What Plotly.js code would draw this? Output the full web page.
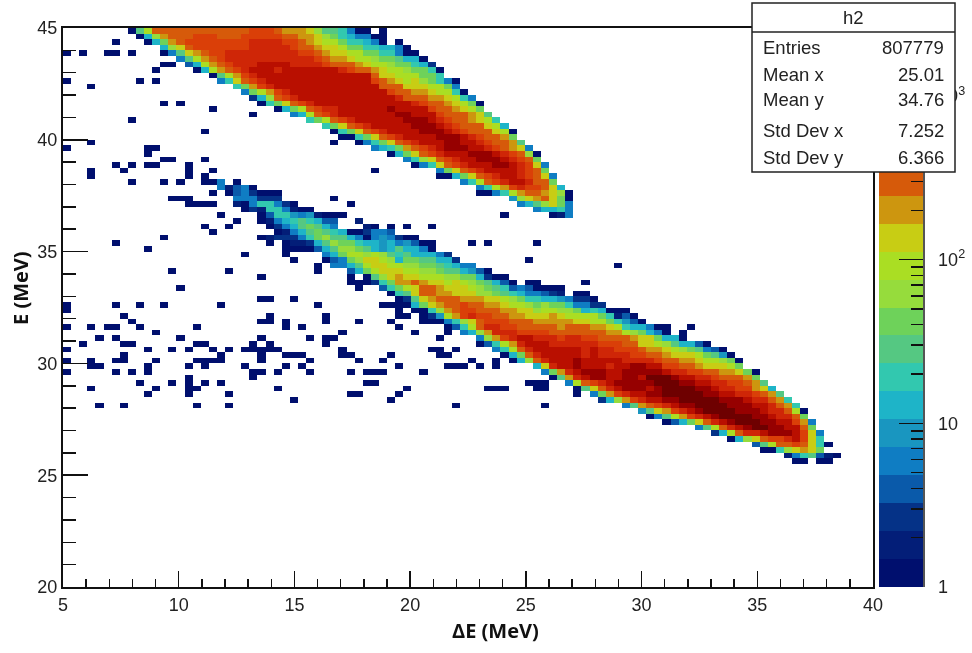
<!DOCTYPE html>
<html>
<head>
<meta charset="utf-8">
<script src="https://cdn.plot.ly/plotly-3.0.1.min.js"></script>
<style>html,body{margin:0;padding:0;background:#fff}#plot{width:972px;height:653px;filter:blur(0.5px)}</style>
</head>
<body>
<div id="plot"></div>
<script>
// Histogram h2: 100 x 100 bins. Each bin holds a palette level a (lowest) .. t (highest), "." = empty.
// Level letters may be followed by a repeat count. Entries: [row, first column, levels].
var upperBandRows = [
[99,8,"a i l o12 p3 o n3 m k i2 h e a2 . a"],
[98,9,"a g k n o3 p3 o3 p5 o2 n2 m k j h g e2 a2"],
[97,10,"a g j n o p8 q4 p2 o n m l2 j h2 g e a . a"],
[96,12,"g k m o p7 q5 p o2 n m2 l j2 h2 g2 e a"],
[95,12,"a e i m n o p2 q9 p2 o n m2 l2 j2 h2 e a2"],
[94,14,"e i l n o p q11 p o n2 m l2 k j2 i g2 a"],
[93,12,"a2 . d g l n o p q3 r4 q4 p o3 n m l2 k j2 h g c"],
[92,16,"a g l n o p q r3 q r7 q p o2 n m l2 k j2 h a"],
[91,18,"a i l n p q r14 o m2 l3 j2 h"],
[90,19,"e h m o p q r13 p o n m l m k j h e a"],
[89,21,"h j n p q r13 o3 m3 l2 j e"],
[88,22,"e j l n p q r12 p o2 n2 m l2 h a"],
[87,23,"c g k o p q r12 q o3 n2 m l h e"],
[86,24,"a h j m o p q r12 q p o2 n m l j a"],
[85,26,"a g j l o p q2 r6 s r4 p o2 n m l j"],
[84,28,"e g l o p q r7 s2 r3 p o3 n m i"],
[83,30,"h j l o p q r6 s3 r q p o2 n m l h"],
[82,32,"h j m o p q r5 s3 r q p o3 m l g"],
[81,33,"a h j m o p q r4 s3 r q p o3 m l a"],
[80,34,"a2 h j m o p q r4 s3 r q p o2 n j"],
[79,36,"a e h j m o p q r3 s2 r2 q p o2 n i"],
[78,38,"e g h j n o p q r s3 r2 q p o n m e"],
[77,40,"a g j m o p q r3 s3 r q p o k a"],
[76,42,"e h k m o p q r2 s3 r q p o j"],
[75,43,"a e h m o p q r3 s2 r q p m e"],
[74,46,"e j m o p q r4 q p o j"],
[73,46,"a2 g j m o p q r2 q p o m e"],
[72,49,"e h l o p q r2 q o2 j"],
[71,51,"e h l n p q p2 o m g"],
[70,51,"a2 e h l n o2 n m k a"],
[69,55,"f k m n o m j a"],
[68,56,"e g i k m j e"],
[67,58,"e g g h e"],
[66,60,"a b e"]
];
var lowerBandRows = [
[72,19,"e . a"],
[71,19,"e b d e a"],
[70,18,"a . a d e c a3"],
[69,21,"e3 c3"],
[68,21,"b a e h2 e c a"],
[67,22,"a c b h2 e b a2"],
[66,24,"a d h2 f e f b a"],
[65,24,"a b e g h i h g d d . . b"],
[64,25,"a c e g i j i g e . . . b a"],
[63,26,"a b e g i j i h g a2 c e2 d"],
[62,24,"a b c3 e h j k i2 g e a e f e c a2"],
[61,25,"a . a b2 c g i k j2 h g2 f g e f d a2"],
[60,27,"a4 d g i k2 j i g f g i g2 e a"],
[59,27,"a . . . . e g j l2 k l k i h i g3 e c"],
[58,28,"a . . . a d e j k m2 l k g j2 i2 g2 c"],
[57,31,"a . e2 g i l m2 l2 k2 j2 i h g e2"],
[56,31,"a . . . d g j l m3 l2 k2 j i2 g f d a"],
[55,35,"a . a i k m n m2 l3 k2 j2 g c a2"],
[54,35,"a3 c h j n2 o n m2 l m l k j i g d a . a2 . . . . . a"],
[53,36,"a . . d h j l m o2 n m3 l k j i h d e d a4"],
[52,40,"a h i m o2 n2 m3 k2 j i h g e2 d c b . a2"],
[51,41,"a c i m n o3 n3 m2 l k j h2 g2 f e c2 a"],
[50,39,"a4 g j m n o2 p o2 n2 m l2 k j k j2 h e2 c2"],
[49,41,"a . a2 h k n o p2 o3 n2 m2 k l2 k2 j g h g a3"],
[48,41,"a2 . a c f l n p q p2 o2 n2 m3 n m l4 j h b d a"],
[47,44,"a3 e h k m o p3 o3 n5 m2 l2 j h f d a"],
[46,47,"a d h l o q2 p2 o5 n o3 n2 m l h g2 e a2 . . a"],
[45,47,"a . e g k n q3 p4 o7 n2 l k j g e a . a"],
[44,51,"e k n p q r2 q3 p q2 p2 o4 n m2 j g2 a"],
[43,51,"a d h l n q r3 q6 p3 o2 m2 l k i g2 d a"],
[42,53,"e h l o q r6 q r q2 p3 o n2 m l k j i e d a"],
[41,54,"a g j o q r5 q r q4 p2 o2 n m3 l j i f a"],
[40,55,"a g k o q r3 s r5 q4 p o2 n2 m l2 k j a"],
[39,58,"g m q r2 s r3 q r2 s2 r2 p2 o2 n m3 l j"],
[38,59,"e j n q r s3 r2 s5 r q2 p2 o2 n2 m j a"],
[37,60,"a i n q r s2 r2 s2 r t3 s r2 q2 p o3 n j"],
[36,62,"e l o p q r s5 t3 s2 r2 q2 p2 o n i"],
[35,63,"a i m o q r s3 r s t4 s2 r q2 p2 n m g"],
[34,63,"a . e j n p q r2 s2 t5 s2 r2 q2 p o n i"],
[33,66,"c g k n p q r2 s2 t5 s3 r q2 o n h"],
[32,69,"e i n o p q r s2 t4 s3 r2 q o n h"],
[31,71,"f i m n p q r s t4 s3 r q2 o l a"],
[30,72,"a e i l n p q r s t4 s2 r q2 o j"],
[29,74,"a d g j m o q r s t3 s2 r2 p n e"],
[28,78,"e i l o q r s t2 s2 r2 o j"],
[27,80,"c g l o q2 r s3 r p m e"],
[26,82,"a g k m o p2 q r p m h"],
[25,85,"d i l o2 p o m h a"],
[24,86,"a2 h k m n m j"],
[23,89,"b e h i d b a"],
[22,90,"a2 . a2"]
];
// Isolated single-count bins: [row, [columns]]
var isolatedBins = [
[97,[6]],[95,[0,2,5,6,8]],[92,[11]],[90,[0,9,11]],[89,[3]],[86,[12,14]],[85,[18]],[84,[23]],
[83,[8]],[81,[17]],[79,[3,33]],[78,[0,10,11]],[77,[10]],[76,[12,13,17]],[75,[6,8,10,11,15]],
[74,[3,7,15,18,38]],[73,[3,15,17]],[72,[8,12,14,17,18]],[69,[13,14,15,33]],[68,[15,16,17,18,35]],
[66,[19,33,34,54]],[65,[21]],[64,[17,20,40,42,45]],[63,[18]],[62,[12]],[61,[6,50,52,58]],[60,[10]],
[59,[22]],[58,[57]],[57,[68]],[56,[13,20]],[55,[24]],[53,[14]],[51,[24,25,28]],[50,[0,6,9,12,19,31]],
[49,[0]],[48,[7,25,32]],[47,[8,24,25,27,32,36,40]],[46,[0,3,5,6,9,16,27,29,41]],[45,[11,34,43]],
[44,[4,6,14,24,30,32,33,46]],[43,[2,7,8,16,17,23,25,32]],
[42,[0,10,13,15,18,20,22,23,24,25,26,34,45,46,48]],[41,[7,19,24,27,28,29,34,35,40,46,47]],
[40,[0,3,6,7,11,16,17,18,19,24,30,36,39,50,53]],[39,[3,4,10,15,17,22,27,29,41,47,48,49,51,53]],
[38,[0,6,8,10,23,24,26,30,35,37,38,39,44]],[37,[15,23]],[36,[9,13,15,17,19,37,38,57,58,59]],
[35,[3,11,15,16,26,42,52,53,54,58,59]],[34,[10,15,20,35,36,41]],[33,[28,40]],[32,[4,7,16,20,48,59]]
];
var paletteColors = ["#000f6e","#031e78","#053287","#0a5aaa","#0f7dc3","#1996c0","#1eb4c8","#32c8af",
"#55c882","#6ed25a","#96dc3c","#aade23","#c8cd14","#cd960f","#d65a0a","#da3f08","#cf2607","#b90f00","#960000","#6e0000"];
var statsNames = ["Entries","Mean x","Mean y","Std Dev x","Std Dev y"];
var statsValues = ["807779","25.01","34.76","7.252","6.366"];
var statsRowY = [47,74,100,130,157];
var barTickValues = [1,10,100,1000];
var barTickLabels = ["1","10","10<sup>2</sup>","10<sup>3</sup>"];
var barMinorValues = [2,3,4,5,6,7,8,9,20,30,40,50,60,70,80,90,200,300,400,500,600,700,800,900,2000];

var NBINS = 100, W = 972, H = 653, LEFT = 63, RIGHT = 873, TOP = 28, BOTTOM = 587;
var z = [];
for (var r = 0; r < NBINS; r++) { z.push(new Array(NBINS).fill(null)); }
function expand(s) {
  var out = [], re = /([a-t.])(\d*)/g, m;
  s = s.replace(/\s+/g, "");
  while ((m = re.exec(s))) {
    var n = m[2] ? parseInt(m[2], 10) : 1;
    for (var i = 0; i < n; i++) out.push(m[1]);
  }
  return out;
}
upperBandRows.concat(lowerBandRows).forEach(function (e) {
  expand(e[2]).forEach(function (ch, i) {
    if (ch !== ".") z[e[0]][e[1] + i] = ch.charCodeAt(0) - 97 + 0.5;
  });
});
isolatedBins.forEach(function (e) {
  e[1].forEach(function (c) { if (z[e[0]][c] === null) z[e[0]][c] = 0.5; });
});
var nLev = paletteColors.length, colorscale = [];
paletteColors.forEach(function (c, i) {
  colorscale.push([i / nLev, c]);
  colorscale.push([(i + 1) / nLev, c]);
});
var barLevels = paletteColors.map(function (c, i) { return [i + 0.5]; });
var decadesPerLevel = 28 / 164;
var font = {family: '"Liberation Sans", Arial, sans-serif', size: 18, color: "#222"};
var axisBase = {showgrid: false, zeroline: false, showline: true, linecolor: "#111", linewidth: 2,
  mirror: true, ticks: "inside", tickcolor: "#111", tickwidth: 1.5};

var traces = [
  {type: "heatmap", z: z, x0: 5.175, dx: 0.35, y0: 20.125, dy: 0.25, xaxis: "x", yaxis: "y",
   colorscale: colorscale, zmin: 0, zmax: nLev, showscale: false, hoverongaps: false},
  {type: "heatmap", z: barLevels, x: [0], y0: decadesPerLevel / 2, dy: decadesPerLevel, xaxis: "x2", yaxis: "y2",
   colorscale: colorscale, zmin: 0, zmax: nLev, showscale: false}
];

var stats = [{x: 853, y: 17, text: "h2", xanchor: "center"}];
statsNames.forEach(function (n, i) {
  stats.push({x: 761, y: statsRowY[i], text: n, xanchor: "left"});
  stats.push({x: 946, y: statsRowY[i], text: statsValues[i], xanchor: "right"});
});
var annotations = stats.map(function (a) {
  return {xref: "paper", yref: "paper", x: a.x / W, y: 1 - a.y / H, text: a.text, showarrow: false,
    xanchor: a.xanchor, yanchor: "middle", font: {family: font.family, size: 18.5, color: "#222"}};
});
annotations.push({xref: "paper", yref: "paper", x: 495 / W, y: 1 - 630 / H, text: "<b>ΔE (MeV)</b>", showarrow: false,
  xanchor: "center", yanchor: "middle", font: {family: '"Open Sans", sans-serif', size: 20, color: "#111"}});
annotations.push({xref: "paper", yref: "paper", x: 20 / W, y: 1 - 288 / H, text: "<b>E (MeV)</b>", showarrow: false, textangle: -90,
  xanchor: "center", yanchor: "middle", font: {family: '"Open Sans", sans-serif', size: 20, color: "#111"}});

var layout = {
  width: W, height: H, margin: {l: 0, r: 0, t: 0, b: 0}, paper_bgcolor: "#fff", plot_bgcolor: "#fff",
  font: font, showlegend: false,
  xaxis: Object.assign({}, axisBase, {domain: [LEFT / W, RIGHT / W], range: [5, 40], anchor: "y", tickvals: [5,10,15,20,25,30,35,40],
    ticklen: 16, minor: {ticks: "inside", ticklen: 8, dtick: 1, tick0: 5, tickcolor: "#111", tickwidth: 1.5, showgrid: false}}),
  yaxis: Object.assign({}, axisBase, {domain: [1 - BOTTOM / H, 1 - TOP / H], range: [20, 45], anchor: "x", tickvals: [20,25,30,35,40,45],
    ticklen: 25, minor: {ticks: "inside", ticklen: 13, dtick: 1, tick0: 20, tickcolor: "#111", tickwidth: 1.5, showgrid: false}}),
  xaxis2: {domain: [879 / W, 923 / W], range: [-0.5, 0.5], anchor: "y2", visible: false, fixedrange: true},
  yaxis2: {domain: [1 - BOTTOM / H, 1 - TOP / H], range: [0, nLev * decadesPerLevel], anchor: "x2", side: "right",
    showgrid: false, zeroline: false, showline: true, linecolor: "#555", linewidth: 1.5,
    ticks: "inside", tickcolor: "#111", tickwidth: 1.5, ticklen: 24, ticklabelstandoff: 10,
    tickvals: barTickValues.map(Math.log10), ticktext: barTickLabels,
    minor: {ticks: "inside", ticklen: 12, tickvals: barMinorValues.map(Math.log10), tickcolor: "#111", tickwidth: 1.5, showgrid: false}},
  shapes: [
    {type: "rect", xref: "paper", yref: "paper", x0: 752 / W, x1: 955 / W, y0: 1 - 172 / H, y1: 1 - 3 / H,
     fillcolor: "#fff", line: {color: "#222", width: 1.5}, layer: "above"},
    {type: "line", xref: "paper", yref: "paper", x0: 752 / W, x1: 955 / W, y0: 1 - 32 / H, y1: 1 - 32 / H,
     line: {color: "#222", width: 1.5}, layer: "above"}
  ],
  annotations: annotations
};
Plotly.newPlot("plot", traces, layout, {displayModeBar: false, staticPlot: true});
</script>
</body>
</html>
